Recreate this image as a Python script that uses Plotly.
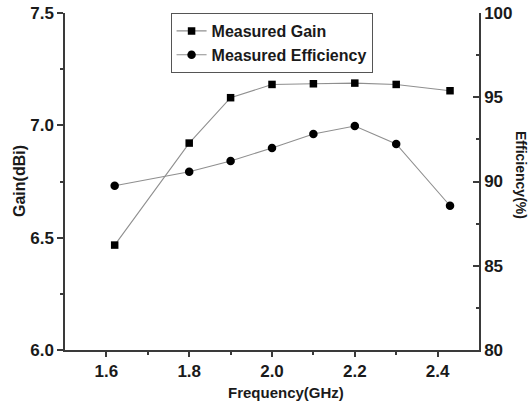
import plotly.graph_objects as go

freq = [1.62, 1.8, 1.9, 2.0, 2.1, 2.2, 2.3, 2.43]
gain = [6.467, 6.921, 7.123, 7.182, 7.185, 7.188, 7.182, 7.154]
efficiency = [89.75, 90.58, 91.22, 91.99, 92.82, 93.29, 92.23, 88.56]

x_ticks = [1.6, 1.8, 2.0, 2.2, 2.4]
gain_ticks = [6.0, 6.5, 7.0, 7.5]
eff_ticks = [80, 85, 90, 95, 100]

FONT = "Liberation Sans"
line_col = "#8f8f8f"
axis_col = "#3a3a3a"

fig = go.Figure()
fig.add_trace(go.Scatter(
    x=freq, y=gain, name="<b>Measured Gain</b>", mode="lines+markers",
    line=dict(color=line_col, width=1.1),
    marker=dict(symbol="square", size=7.5, color="black"),
))
fig.add_trace(go.Scatter(
    x=freq, y=efficiency, name="<b>Measured Efficiency</b>", mode="lines+markers",
    line=dict(color=line_col, width=1.1),
    marker=dict(symbol="circle", size=8.5, color="black"),
    yaxis="y2",
))

tickfont = dict(family=FONT, size=17, color="#1a1a1a", weight="bold")

fig.update_layout(
    width=529, height=408,
    margin=dict(l=65, r=50, t=13, b=58),
    paper_bgcolor="white", plot_bgcolor="white",
    showlegend=True,
    legend=dict(
        x=0.255, y=1.0, xanchor="left", yanchor="top",
        bordercolor="#555", borderwidth=1, bgcolor="white",
        font=dict(family=FONT, size=16, color="#1a1a1a"),
        tracegroupgap=0, itemwidth=30,
    ),
    xaxis=dict(
        range=[1.5, 2.5], tickvals=x_ticks, ticktext=[f"{v:.1f}" for v in x_ticks],
        showgrid=False, zeroline=False, showline=True, linecolor=axis_col, linewidth=1.5,
        ticks="outside", ticklen=5, tickwidth=1.5, tickcolor=axis_col, automargin=False,
        minor=dict(tickvals=[1.7, 1.9, 2.1, 2.3], ticks="outside", ticklen=3, tickwidth=1.5, tickcolor=axis_col),
        tickfont=tickfont,
    ),
    yaxis=dict(
        range=[6.0, 7.5], tickvals=gain_ticks, ticktext=[f"{v:.1f}" for v in gain_ticks],
        showgrid=False, zeroline=False, showline=True, linecolor=axis_col, linewidth=1.5,
        ticks="outside", ticklen=6, tickwidth=1.5, tickcolor=axis_col, automargin=False,
        minor=dict(tickvals=[6.25, 6.75, 7.25], ticks="outside", ticklen=3, tickwidth=1.5, tickcolor=axis_col),
        tickfont=tickfont,
    ),
    yaxis2=dict(
        range=[80, 100], tickvals=eff_ticks, overlaying="y", side="right",
        showgrid=False, zeroline=False, showline=True, linecolor=axis_col, linewidth=1.5,
        ticks="inside", ticklen=6, tickwidth=1.5, tickcolor=axis_col, automargin=False,
        minor=dict(tickvals=[82.5, 87.5, 92.5, 97.5], ticks="inside", ticklen=3, tickwidth=1.5, tickcolor=axis_col),
        tickfont=tickfont,
    ),
)

plot_w = 529 - 65 - 50
plot_h = 408 - 13 - 58

def px(xp):
    return (xp - 65) / plot_w

def py(yp):
    return (350 - yp) / plot_h

fig.add_annotation(text="<b>Frequency(GHz)</b>", x=px(286), y=py(392), xref="paper", yref="paper",
                   xanchor="center", yanchor="middle", showarrow=False,
                   font=dict(family=FONT, size=15, color="#1a1a1a"))
fig.add_annotation(text="<b>Gain(dBi)</b>", x=px(19), y=py(181), xref="paper", yref="paper",
                   xanchor="center", yanchor="middle", showarrow=False, textangle=-90,
                   font=dict(family=FONT, size=16, color="#1a1a1a"))
fig.add_annotation(text="<b>Efficiency(%)</b>", x=px(521), y=py(175), xref="paper", yref="paper",
                   xanchor="center", yanchor="middle", showarrow=False, textangle=90,
                   font=dict(family=FONT, size=14, color="#1a1a1a"))

fig.write_html("out.html")
